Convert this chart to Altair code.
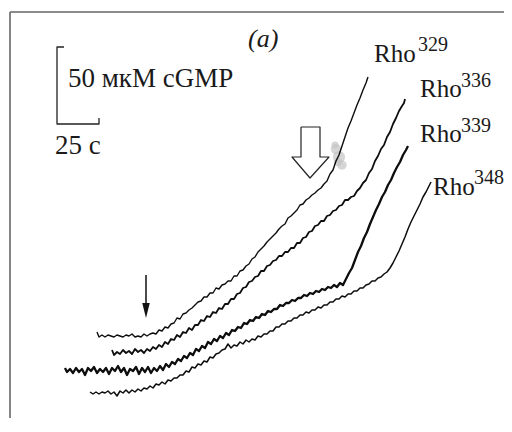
import altair as alt
import pandas as pd

# ---- traces (figure units: x to the right, y downward) ----
rho329_x = [97, 99, 102, 105, 108, 111, 114, 117, 120, 123, 126, 129, 132, 135, 138, 141, 144, 147, 150, 153,
            156, 159, 162, 165, 168, 171, 174, 177, 180, 183, 186, 189, 192, 195, 198, 201, 204, 207, 210, 213,
            216, 219, 222, 225, 228, 231, 234, 237, 240, 243, 246, 249, 252, 255, 258, 261, 264, 267, 270, 273,
            276, 279, 282, 285, 288, 291, 294, 297, 300, 303, 306, 309, 312, 315, 318, 321, 324, 327, 330, 333,
            336, 339, 342, 345, 348, 351, 354, 357, 360, 363, 366, 368]
rho329_y = [332, 337, 335, 337, 335, 336, 337, 335, 336, 337, 335, 336, 334, 337, 336, 337, 334, 336, 334, 333,
            334, 330, 331, 327, 328, 324, 323, 318, 319, 314, 313, 310, 308, 305, 302, 301, 297, 297, 293, 293,
            288, 289, 285, 284, 281, 281, 276, 276, 271, 270, 266, 264, 259, 257, 252, 249, 246, 242, 239, 236,
            233, 229, 226, 224, 218, 216, 213, 210, 205, 204, 200, 198, 195, 193, 190, 188, 184, 181, 174, 170,
            161, 155, 146, 137, 128, 121, 113, 105, 98, 90, 83, 77]

rho336_x = [112, 114, 117, 120, 123, 126, 129, 132, 135, 138, 141, 144, 147, 150, 153, 156, 159, 162, 165, 168,
            171, 174, 177, 180, 183, 186, 189, 192, 195, 198, 201, 204, 207, 210, 213, 216, 219, 222, 225, 228,
            231, 234, 237, 240, 243, 246, 249, 252, 255, 258, 261, 264, 267, 270, 273, 276, 279, 282, 285, 288,
            291, 294, 297, 300, 303, 306, 309, 312, 315, 318, 321, 324, 327, 330, 333, 336, 339, 342, 345, 348,
            351, 354, 357, 360, 363, 366, 369, 372, 375, 378, 381, 384, 387, 390, 393, 396, 399, 402, 404, 405]
rho336_y = [350, 355, 352, 354, 350, 353, 351, 354, 349, 352, 350, 353, 349, 351, 347, 349, 345, 347, 342, 344,
            339, 340, 335, 337, 332, 333, 328, 330, 325, 325, 320, 321, 316, 317, 312, 313, 308, 309, 304, 304,
            299, 299, 294, 293, 288, 287, 282, 281, 277, 276, 271, 271, 266, 265, 261, 260, 256, 256, 252, 252,
            248, 248, 243, 243, 238, 237, 232, 231, 226, 225, 221, 221, 216, 215, 211, 210, 206, 205, 200, 200,
            197, 196, 191, 188, 183, 180, 173, 169, 161, 156, 149, 145, 137, 132, 124, 118, 111, 106, 103, 99]

rho339_x = [65, 67, 70, 73, 76, 79, 82, 85, 88, 91, 94, 97, 100, 103, 106, 109, 112, 115, 118, 121,
            124, 127, 130, 133, 136, 139, 142, 145, 148, 151, 154, 157, 160, 163, 166, 169, 172, 175, 178, 181,
            184, 187, 190, 193, 196, 199, 202, 205, 208, 211, 214, 217, 220, 223, 226, 229, 232, 235, 238, 241,
            244, 247, 250, 253, 256, 259, 262, 265, 268, 271, 274, 277, 280, 283, 286, 289, 292, 295, 298, 301,
            304, 307, 310, 313, 316, 319, 322, 325, 328, 331, 334, 337, 340, 343, 345, 347, 349, 352, 355, 358,
            361, 364, 367, 370, 373, 376, 379, 382, 385, 388, 391, 394, 397, 400, 403, 406, 408]
rho339_y = [368, 372, 369, 373, 368, 372, 369, 375, 368, 371, 367, 373, 369, 372, 368, 374, 368, 371, 366, 372,
            368, 375, 369, 371, 367, 374, 368, 372, 367, 373, 368, 371, 366, 370, 364, 367, 362, 364, 359, 361,
            356, 358, 353, 355, 349, 351, 346, 348, 342, 344, 339, 341, 336, 338, 333, 335, 330, 331, 327, 328,
            323, 324, 320, 321, 317, 318, 314, 315, 311, 312, 309, 309, 305, 306, 303, 303, 300, 301, 298, 298,
            295, 296, 293, 294, 291, 292, 289, 290, 287, 288, 285, 287, 283, 285, 281, 277, 273, 268, 260, 252,
            246, 238, 232, 224, 217, 210, 204, 197, 192, 185, 180, 173, 167, 162, 155, 150, 146]

rho348_x = [90, 93, 96, 99, 102, 105, 108, 111, 114, 117, 120, 123, 126, 129, 132, 135, 138, 141, 144, 147,
            150, 153, 156, 159, 162, 165, 168, 171, 174, 177, 180, 183, 186, 189, 192, 195, 198, 201, 204, 207,
            210, 213, 216, 219, 222, 225, 228, 231, 234, 237, 240, 243, 246, 249, 252, 255, 258, 261, 264, 267,
            270, 273, 276, 279, 282, 285, 288, 291, 294, 297, 300, 303, 306, 309, 312, 315, 318, 321, 324, 327,
            330, 333, 336, 339, 342, 345, 348, 351, 354, 357, 360, 363, 366, 369, 372, 375, 378, 381, 384, 387,
            390, 393, 396, 399, 402, 405, 408, 411, 414, 417, 420, 423, 426, 429, 431]
rho348_y = [392, 394, 392, 394, 392, 393, 391, 394, 392, 396, 391, 393, 390, 393, 390, 392, 389, 391, 388, 389,
            386, 388, 384, 385, 382, 384, 380, 381, 378, 378, 375, 375, 371, 372, 367, 368, 364, 365, 361, 362,
            357, 358, 354, 353, 350, 349, 344, 348, 345, 346, 342, 344, 340, 342, 339, 340, 336, 337, 334, 334,
            331, 331, 327, 327, 324, 324, 321, 321, 318, 318, 315, 315, 312, 313, 310, 310, 307, 308, 305, 305,
            302, 302, 299, 299, 296, 297, 294, 294, 291, 291, 288, 288, 285, 284, 281, 281, 278, 277, 274, 272,
            268, 263, 257, 251, 244, 237, 229, 222, 216, 210, 204, 197, 192, 186, 182]

trace_widths = [1.4, 1.8, 2.3, 1.5]

# ---- labels ----
label_main = ["Rho", "Rho", "Rho", "Rho"]
label_main_x = [374, 420, 420, 433]
label_main_y = [62, 97, 142, 195]
label_sup = ["329", "336", "339", "348"]
label_sup_x = [418, 461, 461, 474]
label_sup_y = [51, 87, 132, 184]

scale_text = ["50 мкМ cGMP", "25 c"]
scale_text_x = [68, 55]
scale_text_y = [87, 154]

panel_text = ["(a)"]
panel_text_x = [248]
panel_text_y = [47]

# ---- decorations ----
frame_left = {"x": [10], "y": [12], "y2": [418]}
frame_top = {"x": [10], "x2": [504], "y": [12]}
bar_x = [64, 57, 57, 99, 99]
bar_y = [47, 47, 124, 124, 118]
big_arrow_x = [301, 320, 320, 329, 310, 292, 301, 301]
big_arrow_y = [127, 127, 157, 157, 178, 157, 157, 127]
small_arrow_x = [146, 146]
small_arrow_y = [275, 306]
smudge_x = [336, 339, 342, 338, 335]
smudge_y = [149, 157, 165, 162, 145]
smudge_s = [110, 150, 90, 70, 50]

X0, X1, Y0, Y1 = 8, 504, 8, 418
xs = alt.Scale(domain=[X0, X1], nice=False, zero=False)
ys = alt.Scale(domain=[Y0, Y1], nice=False, zero=False, reverse=True)


def path_df(xv, yv):
    return pd.DataFrame({"x": xv, "y": yv, "i": list(range(len(xv)))})


def path_layer(df, width, color="black"):
    return alt.Chart(df).mark_line(color=color, strokeWidth=width, strokeJoin="round").encode(
        x=alt.X("x:Q", scale=xs, axis=None),
        y=alt.Y("y:Q", scale=ys, axis=None),
        order=alt.Order("i:Q"),
    )


layers = []
layers.append(
    alt.Chart(pd.DataFrame(frame_left)).mark_rule(color="#666666", strokeWidth=1.6).encode(
        x=alt.X("x:Q", scale=xs, axis=None),
        y=alt.Y("y:Q", scale=ys, axis=None),
        y2="y2:Q",
    )
)
layers.append(
    alt.Chart(pd.DataFrame(frame_top)).mark_rule(color="#666666", strokeWidth=1.6).encode(
        x=alt.X("x:Q", scale=xs, axis=None),
        x2="x2:Q",
        y=alt.Y("y:Q", scale=ys, axis=None),
    )
)

smudge = alt.Chart(pd.DataFrame({"x": smudge_x, "y": smudge_y, "s": smudge_s})).mark_point(
    filled=True, color="#c4c4c4", opacity=0.7, strokeWidth=0
).encode(
    x=alt.X("x:Q", scale=xs, axis=None),
    y=alt.Y("y:Q", scale=ys, axis=None),
    size=alt.Size("s:Q", scale=None),
)
layers.append(smudge)

traces = [(rho329_x, rho329_y), (rho336_x, rho336_y), (rho339_x, rho339_y), (rho348_x, rho348_y)]
for (tx, ty), w in zip(traces, trace_widths):
    layers.append(path_layer(path_df(tx, ty), w, "#0d0d0d"))

layers.append(path_layer(path_df(bar_x, bar_y), 1.3, "#222222"))
layers.append(path_layer(path_df(big_arrow_x, big_arrow_y), 1.2, "#222222"))
layers.append(path_layer(path_df(small_arrow_x, small_arrow_y), 1.5, "#111111"))

head = alt.Chart(pd.DataFrame({"x": [small_arrow_x[1]], "y": [small_arrow_y[1] + 4.5]})).mark_point(
    shape="M-0.5,-1L0.5,-1L0,1Z", filled=True, color="#111111", size=225, strokeWidth=0, opacity=1
).encode(
    x=alt.X("x:Q", scale=xs, axis=None),
    y=alt.Y("y:Q", scale=ys, axis=None),
)
layers.append(head)


def text_layer(tv, xv, yv, size, style="normal"):
    df = pd.DataFrame({"x": xv, "y": yv, "t": tv})
    return alt.Chart(df).mark_text(
        align="left", baseline="alphabetic", font="Liberation Serif", fontSize=size,
        fontStyle=style, color="#1a1a1a"
    ).encode(
        x=alt.X("x:Q", scale=xs, axis=None),
        y=alt.Y("y:Q", scale=ys, axis=None),
        text="t:N",
    )


layers.append(text_layer(label_main, label_main_x, label_main_y, 25))
layers.append(text_layer(label_sup, label_sup_x, label_sup_y, 20))
layers.append(text_layer(scale_text, scale_text_x, scale_text_y, 27))
layers.append(text_layer(panel_text, panel_text_x, panel_text_y, 26, "italic"))

chart = alt.layer(*layers).properties(
    width=X1 - X0, height=Y1 - Y0, padding=0, autosize=alt.AutoSizeParams(type="none"),
    background="white",
).configure_view(stroke=None)

chart.save("out.html", embed_options={"renderer": "svg", "actions": False})
